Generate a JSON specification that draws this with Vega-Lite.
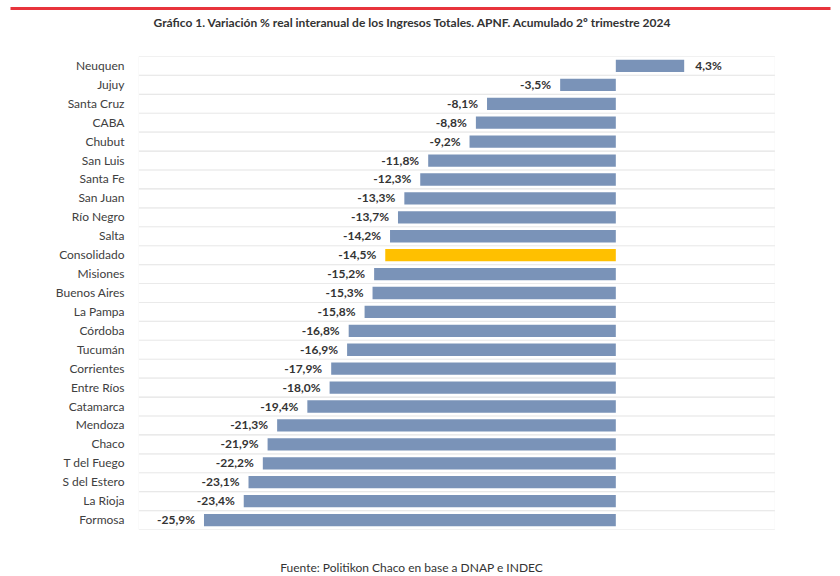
{
  "$schema": "https://vega.github.io/schema/vega-lite/v6.json",
  "autosize": {"type": "none"},
  "width": 820,
  "height": 473,
  "padding": {"left": 10, "top": 56.5, "right": 10, "bottom": 46.5},
  "background": "white",
  "config": {
    "view": {"stroke": null},
    "font": "Lato"
  },
  "title": {
    "text": "Gráfico 1. Variación % real interanual de los Ingresos Totales. APNF. Acumulado 2º trimestre 2024",
    "anchor": "middle",
    "frame": "group",
    "fontSize": 12,
    "fontWeight": "bold",
    "color": "#333333",
    "font": "Lato",
    "offset": -22,
    "dx": -8
  },
  "data": {
    "values": [
      {"provincia": "Neuquen", "valor": 4.3, "etiqueta": "4,3%"},
      {"provincia": "Jujuy", "valor": -3.5, "etiqueta": "-3,5%"},
      {"provincia": "Santa Cruz", "valor": -8.1, "etiqueta": "-8,1%"},
      {"provincia": "CABA", "valor": -8.8, "etiqueta": "-8,8%"},
      {"provincia": "Chubut", "valor": -9.2, "etiqueta": "-9,2%"},
      {"provincia": "San Luis", "valor": -11.8, "etiqueta": "-11,8%"},
      {"provincia": "Santa Fe", "valor": -12.3, "etiqueta": "-12,3%"},
      {"provincia": "San Juan", "valor": -13.3, "etiqueta": "-13,3%"},
      {"provincia": "Río Negro", "valor": -13.7, "etiqueta": "-13,7%"},
      {"provincia": "Salta", "valor": -14.2, "etiqueta": "-14,2%"},
      {"provincia": "Consolidado", "valor": -14.5, "etiqueta": "-14,5%"},
      {"provincia": "Misiones", "valor": -15.2, "etiqueta": "-15,2%"},
      {"provincia": "Buenos Aires", "valor": -15.3, "etiqueta": "-15,3%"},
      {"provincia": "La Pampa", "valor": -15.8, "etiqueta": "-15,8%"},
      {"provincia": "Córdoba", "valor": -16.8, "etiqueta": "-16,8%"},
      {"provincia": "Tucumán", "valor": -16.9, "etiqueta": "-16,9%"},
      {"provincia": "Corrientes", "valor": -17.9, "etiqueta": "-17,9%"},
      {"provincia": "Entre Ríos", "valor": -18.0, "etiqueta": "-18,0%"},
      {"provincia": "Catamarca", "valor": -19.4, "etiqueta": "-19,4%"},
      {"provincia": "Mendoza", "valor": -21.3, "etiqueta": "-21,3%"},
      {"provincia": "Chaco", "valor": -21.9, "etiqueta": "-21,9%"},
      {"provincia": "T del Fuego", "valor": -22.2, "etiqueta": "-22,2%"},
      {"provincia": "S del Estero", "valor": -23.1, "etiqueta": "-23,1%"},
      {"provincia": "La Rioja", "valor": -23.4, "etiqueta": "-23,4%"},
      {"provincia": "Formosa", "valor": -25.9, "etiqueta": "-25,9%"}
    ]
  },
  "encoding": {
    "y": {
      "field": "provincia",
      "type": "nominal",
      "sort": null,
      "scale": {"paddingInner": 0, "paddingOuter": 0},
      "axis": {
        "title": null,
        "orient": "left",
        "offset": -118,
        "domain": false,
        "ticks": false,
        "grid": false,
        "labelPadding": 4,
        "labelFontSize": 12,
        "labelColor": "#404040",
        "labelFont": "Lato"
      }
    }
  },
  "layer": [
    {
      "mark": {"type": "bar", "fill": "#e3e3e3", "stroke": null},
      "encoding": {
        "x": {"datum": -30, "type": "quantitative", "axis": null, "scale": {"domain": [-38.1, 13.47], "nice": false, "zero": false}},
        "x2": {"datum": 10}
      }
    },
    {
      "mark": {"type": "bar", "fill": "white", "stroke": null, "height": {"band": 0.94}},
      "encoding": {
        "x": {"datum": -30, "type": "quantitative", "axis": null},
        "x2": {"datum": 10}
      }
    },
    {
      "mark": {"type": "bar", "height": {"band": 0.65}},
      "encoding": {
        "x": {
          "field": "valor",
          "type": "quantitative",
          "axis": {
            "orient": "top",
            "offset": 48.5,
            "domain": true,
            "domainColor": "#e8343c",
            "domainWidth": 3,
            "ticks": false,
            "labels": false,
            "grid": false,
            "title": null
          }
        },
        "x2": {"datum": 0},
        "color": {
          "condition": {"test": "datum.provincia === 'Consolidado'", "value": "#FFC000"},
          "value": "#7A93B8"
        }
      }
    },
    {
      "transform": [{"filter": "datum.valor < 0"}],
      "mark": {"type": "text", "align": "right", "baseline": "middle", "dx": -9, "fontSize": 12, "fontWeight": "bold", "color": "#333333", "font": "Lato"},
      "encoding": {
        "x": {
          "field": "valor",
          "type": "quantitative",
          "axis": {
            "orient": "bottom",
            "domain": false,
            "ticks": false,
            "labels": false,
            "grid": false,
            "title": "Fuente: Politikon Chaco en base a DNAP e INDEC",
            "titleFontSize": 12,
            "titleFontWeight": "normal",
            "titleColor": "#333333",
            "titleFont": "Lato",
            "titlePadding": 33,
            "titleX": 401
          }
        },
        "text": {"field": "etiqueta"}
      }
    },
    {
      "transform": [{"filter": "datum.valor >= 0"}],
      "mark": {"type": "text", "align": "left", "baseline": "middle", "dx": 11, "fontSize": 12, "fontWeight": "bold", "color": "#333333", "font": "Lato"},
      "encoding": {
        "x": {"field": "valor", "type": "quantitative", "axis": null},
        "text": {"field": "etiqueta"}
      }
    }
  ],
  "resolve": {"axis": {"x": "independent"}}
}
